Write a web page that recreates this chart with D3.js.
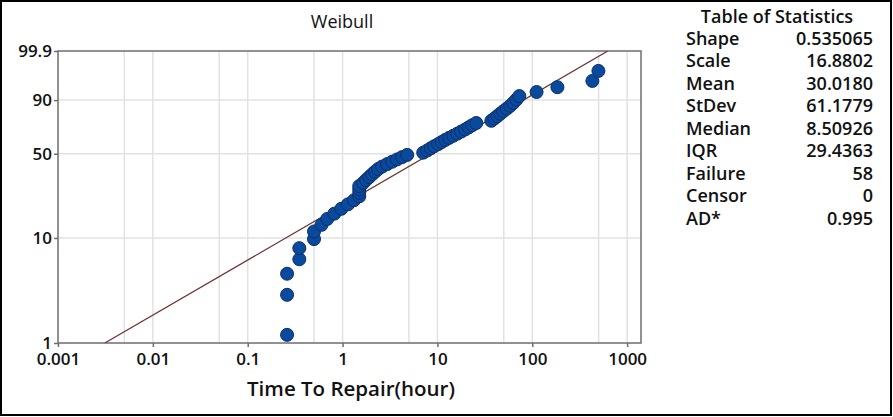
<!DOCTYPE html>
<html>
<head>
<meta charset="utf-8">
<script src="https://cdn.jsdelivr.net/npm/d3@7"></script>
<style>
  html, body { margin: 0; padding: 0; background: #fff; }
  svg { display: block; }
  text { font-family: "Open Sans", "Noto Sans", sans-serif; fill: #111; }
</style>
</head>
<body>
<svg id="chart" width="893" height="417"></svg>
<script>
// ---- data ----
const repairTimes = [
  0.26, 0.26, 0.26, 0.35, 0.35, 0.5, 0.5, 0.6, 0.69, 0.82,
  0.97, 1.14, 1.32, 1.5, 1.5, 1.5, 1.5, 1.65, 1.77, 1.91,
  2.05, 2.2, 2.37, 2.61, 2.95, 3.33, 3.76, 4.25, 4.8, 7.08,
  7.8, 8.5, 9.25, 10.2, 11.1, 12.1, 13.3, 14.7, 16.2, 17.8,
  19.6, 21.4, 23.3, 25.7, 37, 39.8, 42.8, 46, 49.5, 53.9,
  58.6, 63.1, 67.9, 73, 111, 184, 430, 498
];
const xTickValues = [0.001, 0.01, 0.1, 1, 10, 100, 1000];
const xTickLabels = ["0.001", "0.01", "0.1", "1", "10", "100", "1000"];
const xGridValues = [0.005, 0.01, 0.05, 0.1, 0.5, 1, 5, 10, 50, 100, 500, 1000];
const yTickValues = [1, 10, 50, 90, 99.9];
const yTickLabels = ["1", "10", "50", "90", "99.9"];
const yGridValues = [10, 50, 90];
const weibullShape = 0.535065;
const weibullScale = 16.8802;
const statLabels = ["Shape", "Scale", "Mean", "StDev", "Median", "IQR", "Failure", "Censor", "AD*"];
const statValues = ["0.535065", "16.8802", "30.0180", "61.1779", "8.50926", "29.4363", "58", "0", "0.995"];

// ---- layout ----
const svg = d3.select("#chart");
const plot = { left: 58, right: 641, top: 51, bottom: 343 };

const wTransform = p => Math.log(-Math.log(1 - p / 100));

const x = d3.scaleLog().domain([0.001, 1400]).range([plot.left, plot.right]);
const y = d3.scaleLinear()
  .domain([wTransform(1), wTransform(99.9)])
  .range([plot.bottom, plot.top]);

// clip
svg.append("clipPath").attr("id", "plotclip")
  .append("rect")
  .attr("x", plot.left).attr("y", plot.top)
  .attr("width", plot.right - plot.left).attr("height", plot.bottom - plot.top);

// gridlines
const grid = svg.append("g");
grid.selectAll("line.vg").data(xGridValues).join("line")
  .attr("x1", d => x(d)).attr("x2", d => x(d))
  .attr("y1", plot.top).attr("y2", plot.bottom)
  .attr("stroke", "#e2e2e2").attr("stroke-width", 1.5);
grid.selectAll("line.hg").data(yGridValues).join("line")
  .attr("y1", d => y(wTransform(d))).attr("y2", d => y(wTransform(d)))
  .attr("x1", plot.left).attr("x2", plot.right)
  .attr("stroke", "#e2e2e2").attr("stroke-width", 1.5);

// plot frame
svg.append("rect")
  .attr("x", plot.left).attr("y", plot.top)
  .attr("width", plot.right - plot.left).attr("height", plot.bottom - plot.top)
  .attr("fill", "none").attr("stroke", "#6e6e6e").attr("stroke-width", 1.5);

// axes
const xAxis = d3.axisBottom(x)
  .tickValues(xTickValues)
  .tickFormat((d, i) => xTickLabels[i])
  .tickSize(4).tickPadding(6);
const gx = svg.append("g").attr("transform", `translate(0,${plot.bottom})`).call(xAxis);
gx.select(".domain").remove();
gx.selectAll(".tick line").attr("stroke", "#6e6e6e").attr("stroke-width", 1.5);
gx.selectAll(".tick text")
  .style("font-family", '"Open Sans", sans-serif')
  .style("font-size", "17px").style("font-weight", 600).attr("fill", "#111");

const yAxis = d3.axisLeft(y)
  .tickValues(yTickValues.map(wTransform))
  .tickFormat((d, i) => yTickLabels[i])
  .tickSize(4).tickPadding(2);
const gy = svg.append("g").attr("transform", `translate(${plot.left},0)`).call(yAxis);
gy.select(".domain").remove();
gy.selectAll(".tick line").attr("stroke", "#6e6e6e").attr("stroke-width", 1.5);
gy.selectAll(".tick text")
  .style("font-family", '"Open Sans", sans-serif')
  .style("font-size", "17px").style("font-weight", 600).attr("fill", "#111");

// fitted Weibull line
const pLow = 1, pHigh = 99.9;
const tAt = p => weibullScale * Math.exp(wTransform(p) / weibullShape);
svg.append("line")
  .attr("clip-path", "url(#plotclip)")
  .attr("x1", x(tAt(pLow))).attr("y1", y(wTransform(pLow)))
  .attr("x2", x(tAt(pHigh))).attr("y2", y(wTransform(pHigh)))
  .attr("stroke", "#6a3030").attr("stroke-width", 1.2);

// points: median ranks (Benard)
const n = repairTimes.length;
const pts = repairTimes.map((t, i) => ({ t, p: 100 * (i + 1 - 0.3) / (n + 0.4) }));
svg.append("g").selectAll("circle").data(pts).join("circle")
  .attr("cx", d => x(d.t))
  .attr("cy", d => y(wTransform(d.p)))
  .attr("r", 6.5)
  .attr("fill", "#0a4a9c")
  .attr("stroke", "#0b2f6e").attr("stroke-width", 1);

// titles
svg.append("text").attr("x", 342).attr("y", 28).attr("text-anchor", "middle")
  .style("font-size", "18px").attr("fill", "#222").text("Weibull");
svg.append("text").attr("x", 351).attr("y", 396).attr("text-anchor", "middle")
  .style("font-size", "20.5px").style("font-weight", 600).text("Time To Repair(hour)");
svg.append("text").attr("transform", "translate(1,197) rotate(-90)")
  .attr("text-anchor", "middle")
  .style("font-size", "17px").style("font-weight", 600).text("Percent");

// statistics table
const tbl = svg.append("g");
tbl.append("text").attr("x", 777).attr("y", 23).attr("text-anchor", "middle")
  .style("font-size", "18px").style("font-weight", 600).text("Table of Statistics");
tbl.selectAll("text.lab").data(statLabels).join("text")
  .attr("class", "lab")
  .attr("x", 686).attr("y", (d, i) => 44.5 + i * 22.5)
  .style("font-size", "18px").style("font-weight", 600).text(d => d);
tbl.selectAll("text.val").data(statValues).join("text")
  .attr("class", "val")
  .attr("x", 873).attr("y", (d, i) => 44.5 + i * 22.5).attr("text-anchor", "end")
  .style("font-size", "18px").style("font-weight", 600).text(d => d);

// whole-picture black frame (drawn last, on top)
svg.append("rect")
  .attr("x", 1).attr("y", 1).attr("width", 890).attr("height", 414)
  .attr("fill", "none").attr("stroke", "#000").attr("stroke-width", 2);
</script>
</body>
</html>
